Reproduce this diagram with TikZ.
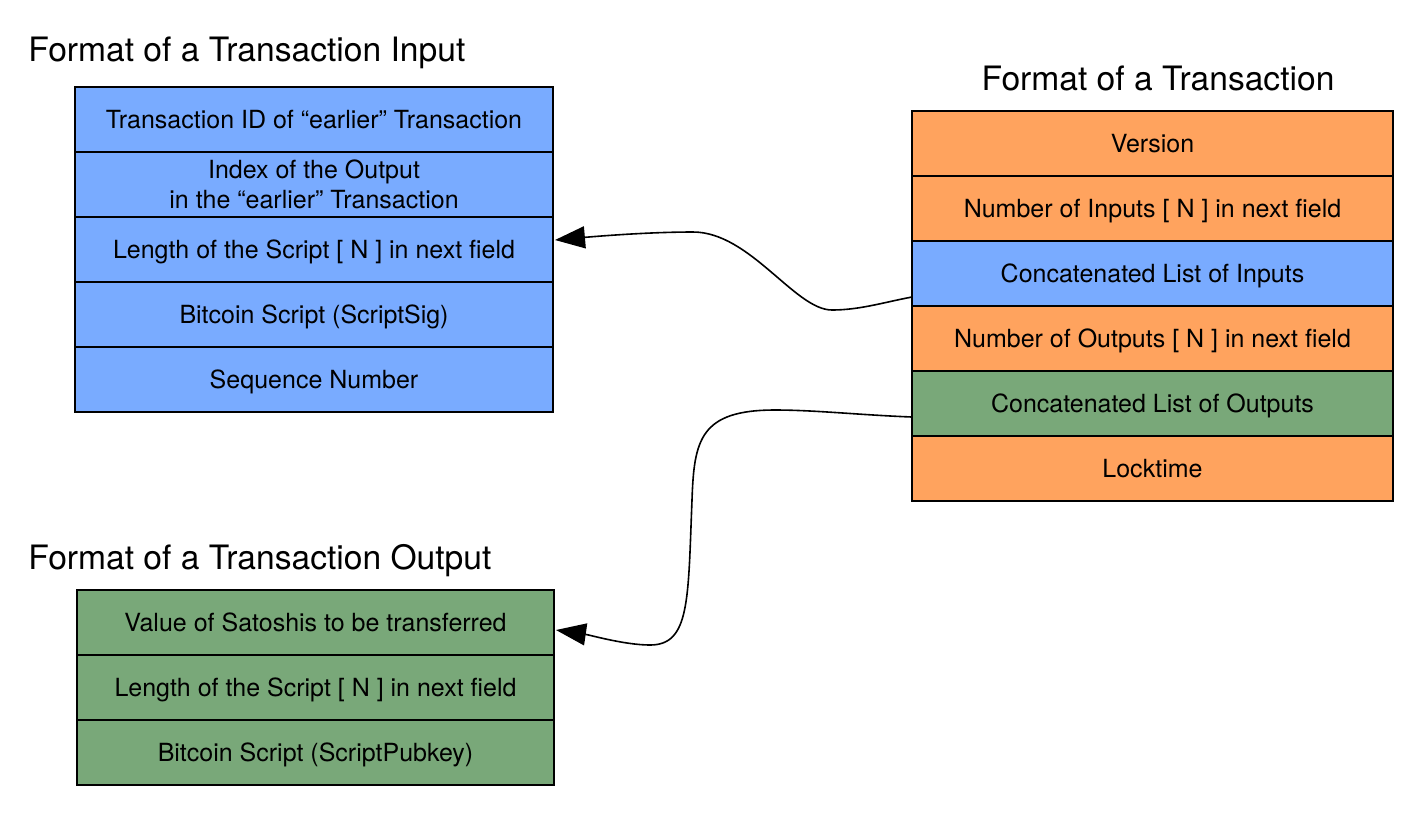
\documentclass[tikz,border=0pt]{standalone}
\usepackage{fontspec}
\setmainfont{TeX Gyre Heros}
\usetikzlibrary{arrows.meta,
                chains,
                positioning}
\definecolor{inblue}{HTML}{79ABFF}
\definecolor{txorange}{HTML}{FFA35E}
\definecolor{outgreen}{HTML}{79A879}
\tikzset{
      arr/.style = {-{Triangle[length=15pt, width=11pt]}, line width=0.8pt},   % <--- arrow heads
    field/.style = {draw, line width=0.8pt, outer sep=0pt, inner ysep=1pt,
                    minimum height=32.5pt, align=center,
                    text height=9pt, text depth=0pt,
                    font=\fontsize{12.5}{15}\selectfont},
  infield/.style = {field, fill=inblue, minimum width=239pt},
  txfield/.style = {field, fill=txorange, minimum width=240.5pt},
 outfield/.style = {field, fill=outgreen, minimum width=238.5pt},
    title/.style = {font=\fontsize{16.8}{19}\selectfont, inner sep=0pt},
        }

\begin{document}
\begin{tikzpicture}[x=0.5pt, y=-0.5pt,
        node distance=0pt,
      ]
  \useasboundingbox (0,0) rectangle (1417,826);

  % transaction input
  \node[title, anchor=base west] (tin) at (28,61) {Format of a Transaction Input};
  \begin{scope}[start chain=inputs going below]
  \node[infield, on chain, anchor=north west] (I1) at (75,87) {Transaction ID of “earlier” Transaction};
  \node[infield, on chain, text height=, text depth=] (I2) {Index of the Output\\in the “earlier” Transaction};
  \node[infield, on chain] (I3) {Length of the Script [ N ] in next field};
  \node[infield, on chain] (I4) {Bitcoin Script (ScriptSig)};
  \node[infield, on chain] (I5) {Sequence Number};
  \end{scope}

  % transaction
  \node[title, anchor=base] (ttx) at (1158,90) {Format of a Transaction};
  \begin{scope}[start chain=tx going below]
  \node[txfield, on chain, anchor=north west] (T1) at (912,111) {Version};
  \node[txfield, on chain] (T2) {Number of Inputs [ N ] in next field};
  \node[txfield, on chain, fill=inblue] (T3) {Concatenated List of Inputs};
  \node[txfield, on chain] (T4) {Number of Outputs [ N ] in next field};
  \node[txfield, on chain, fill=outgreen] (T5) {Concatenated List of Outputs};
  \node[txfield, on chain] (T6) {Locktime};
  \end{scope}

  % transaction output
  \node[title, anchor=base west] (tout) at (28,569) {Format of a Transaction Output};
  \begin{scope}[start chain=outputs going below]
  \node[outfield, on chain, anchor=north west] (O1) at (77,590) {Value of Satoshis to be transferred};
  \node[outfield, on chain] (O2) {Length of the Script [ N ] in next field};
  \node[outfield, on chain] (O3) {Bitcoin Script (ScriptPubkey)};
  \end{scope}

  \draw[arr] ([yshift=-11.75pt]T3.west) .. controls (885,302) and (860,310) .. (832,310)
        .. controls (795,310) and (750,232) .. (693,232)
        .. controls (650,232) and (600,236) .. ([xshift=1pt, yshift=4.75pt]I3.east);
  \draw[arr] ([yshift=-6.75pt]T5.west) .. controls (860,415) and (815,410) .. (775,410)
        .. controls (700,410) and (694,440) .. (692,500)
        .. controls (688,600) and (690,645) .. (650,645)
        .. controls (625,645) and (590,635) .. ([xshift=1pt, yshift=-3.75pt]O1.east);
\end{tikzpicture}
\end{document}
